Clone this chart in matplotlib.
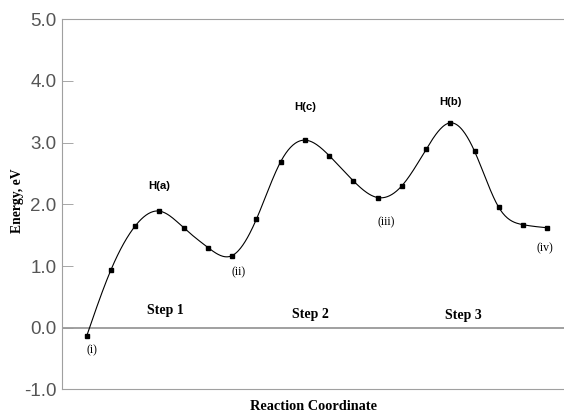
import numpy as np
import matplotlib
matplotlib.use('Agg')
import matplotlib.pyplot as plt

# Energy profile
step_index = list(range(20))
energy_ev = [-0.13, 0.94, 1.65, 1.89, 1.62, 1.30, 1.17, 1.76, 2.69, 3.04,
             2.79, 2.38, 2.11, 2.30, 2.89, 3.32, 2.86, 1.95, 1.67, 1.62]

peak_labels = ['H(a)', 'H(c)', 'H(b)']
peak_pos = [(3.0, 2.29), (9.0, 3.58), (15.0, 3.66)]

step_labels = ['Step 1', 'Step 2', 'Step 3']
step_pos = [(3.23, 0.28), (9.23, 0.21), (15.52, 0.20)]

state_labels = ['(i)', '(ii)', '(iii)', '(iv)']
state_pos = [(0.22, -0.37), (6.27, 0.90), (12.37, 1.71), (18.91, 1.28)]

yticks = [-1.0, 0.0, 1.0, 2.0, 3.0, 4.0, 5.0]


def natural_spline(x, y, n=600):
    # natural cubic spline, just for drawing a smooth line through the points
    x = np.asarray(x, float)
    y = np.asarray(y, float)
    k = len(x)
    h = np.diff(x)
    A = np.zeros((k, k))
    b = np.zeros(k)
    A[0, 0] = A[-1, -1] = 1
    for i in range(1, k - 1):
        A[i, i - 1] = h[i - 1]
        A[i, i] = 2 * (h[i - 1] + h[i])
        A[i, i + 1] = h[i]
        b[i] = 6 * ((y[i + 1] - y[i]) / h[i] - (y[i] - y[i - 1]) / h[i - 1])
    m = np.linalg.solve(A, b)
    xs = np.linspace(x[0], x[-1], n)
    j = np.clip(np.searchsorted(x, xs) - 1, 0, k - 2)
    t = xs - x[j]
    hj = h[j]
    a = (m[j + 1] - m[j]) / (6 * hj)
    c = (y[j + 1] - y[j]) / hj - hj * (2 * m[j] + m[j + 1]) / 6
    ys = y[j] + c * t + m[j] / 2 * t ** 2 + a * t ** 3
    return xs, ys


fig = plt.figure(figsize=(5.64, 4.17), dpi=100)
ax = fig.add_axes([0.110, 0.066, 0.89, 0.888])

xs, ys = natural_spline(step_index, energy_ev)
ax.plot(xs, ys, color='black', linewidth=0.8)
ax.plot(step_index, energy_ev, 's', color='black', markersize=3)

ax.axhline(0.0, color='#999999', linewidth=1.3, zorder=0)

ax.set_xlim(-1.02, 19.69)
ax.set_ylim(-1.0, 5.0)
ax.set_yticks(yticks)
ax.set_yticklabels(['%.1f' % v for v in yticks], fontsize=13.5,
                   family='Liberation Sans', color='#555555')
ax.set_xticks([])
ax.tick_params(axis='y', direction='in', length=8, width=0.6,
               color='#999999', pad=4)

ax.spines['right'].set_visible(False)
for s in ['top', 'bottom', 'left']:
    ax.spines[s].set_color('#a0a0a0')
    ax.spines[s].set_linewidth(0.8)

for lab, (x, y) in zip(peak_labels, peak_pos):
    ax.text(x, y, lab, ha='center', va='center', fontsize=8.2,
            fontweight='bold', family='Liberation Sans')
for lab, (x, y) in zip(step_labels, step_pos):
    ax.text(x, y, lab, ha='center', va='center', fontsize=10,
            fontweight='bold', family='Liberation Serif')
for lab, (x, y) in zip(state_labels, state_pos):
    ax.text(x, y, lab, ha='center', va='center', fontsize=8.5,
            family='Liberation Serif')

ax.set_ylabel('Energy, eV', fontsize=9.8, fontweight='bold',
              family='Liberation Serif')
ax.yaxis.set_label_coords(-0.075, 0.51)
ax.set_xlabel('Reaction Coordinate', fontsize=10.3, fontweight='bold',
              family='Liberation Serif')
ax.xaxis.set_label_coords(0.5, -0.028)

fig.savefig('out.png', dpi=100)
